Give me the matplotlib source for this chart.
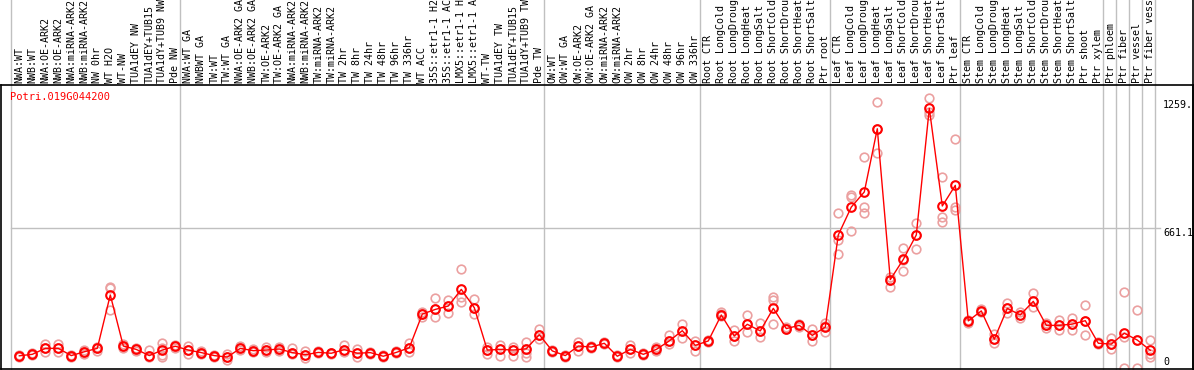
import matplotlib
matplotlib.use('Agg')
import matplotlib.pyplot as plt
from matplotlib.lines import Line2D

gene = "Potri.019G044200"

samples = [
    "NWA:WT", "NWB:WT", "NWA:OE-ARK2", "NWB:OE-ARK2", "NWA:miRNA-ARK2", "NWB:miRNA-ARK2",
    "NW 0hr", "WT H2O", "WT-NW", "TUA1dEY NW", "TUA1dEY+TUB15", "TUA1dY+TUB9 NW", "Pde NW",
    "NWA:WT GA", "NWBWT GA", "TW:WT", "TW:WT GA", "NWA:OE-ARK2 GA", "NWB:OE-ARK2 GA",
    "TW:OE-ARK2", "TW:OE-ARK2 GA", "NWA:miRNA-ARK2", "NWB:miRNA-ARK2", "TW:miRNA-ARK2",
    "TW:miRNA-ARK2", "TW 2hr", "TW 8hr", "TW 24hr", "TW 48hr", "TW 96hr", "TW 336hr",
    "WT ACC", "35S::etr1-1 H2", "35S::etr1-1 AC", "LMX5::etr1-1 H", "LMX5::etr1-1 A",
    "WT-TW", "TUA1dEY TW", "TUA1dEY+TUB15", "TUA1dY+TUB9 TW", "Pde TW",
    "OW:WT", "OW:WT GA", "OW:OE-ARK2", "OW:OE-ARK2 GA", "OW:miRNA-ARK2", "OW:miRNA-ARK2",
    "OW 2hr", "OW 8hr", "OW 24hr", "OW 48hr", "OW 96hr", "OW 336hr",
    "Root CTR", "Root LongCold", "Root LongDroug", "Root LongHeat", "Root LongSalt",
    "Root ShortCold", "Root ShortDrou", "Root ShortHeat", "Root ShortSalt", "Ptr root",
    "Leaf CTR", "Leaf LongCold", "Leaf LongDroug", "Leaf LongHeat", "Leaf LongSalt",
    "Leaf ShortCold", "Leaf ShortDrou", "Leaf ShortHeat", "Leaf ShortSalt", "Ptr leaf",
    "Stem CTR", "Stem LongCold", "Stem LongDroug", "Stem LongHeat", "Stem LongSalt",
    "Stem ShortCold", "Stem ShortDrou", "Stem ShortHeat", "Stem ShortSalt", "Ptr shoot",
    "Ptr xylem", "Ptr phloem", "Ptr fiber", "Ptr vessel", "Ptr fiber vess",
]

means = [
    62, 69, 97, 97, 63, 81, 97, 348, 108, 92, 63, 89, 107,
    89, 77, 63, 56, 97, 86, 89, 94, 77, 67, 78, 74, 91, 74, 77, 60, 78, 100,
    258, 280, 296, 374, 288, 89, 92, 89, 95, 161,
    85, 63, 108, 103, 121, 60, 92, 69, 92, 132, 180, 111,
    132, 254, 155, 210, 179, 285, 190, 205, 158, 197,
    630, 761, 832, 1129, 420, 515, 630, 1225, 766, 863,
    226, 273, 140, 285, 254, 318, 205, 205, 211, 227,
    121, 117, 168, 136, 88,
]

replicates = [
    [66, 63, 58], [74, 69, 64], [117, 97, 81], [116, 97, 81], [66, 63, 56],
    [89, 80, 70], [102, 97, 86], [387, 379, 277], [117, 108, 97], [97, 92, 86],
    [89, 63, 55], [121, 97, 66, 55], [113, 107, 97],
    [108, 89, 69], [86, 77, 71], [67, 63, 58], [72, 56, 42], [108, 97, 89],
    [96, 86, 80], [102, 89, 81], [105, 94, 86], [97, 77, 71], [86, 67, 50],
    [83, 78, 74], [77, 74, 69], [111, 91, 81], [92, 74, 58], [82, 77, 72],
    [64, 60, 55], [83, 78, 74], [124, 100, 81], [269, 258, 243], [332, 280, 243],
    [324, 296, 265], [468, 340, 316], [330, 288, 257], [105, 89, 71], [113, 92, 61],
    [102, 89, 61], [128, 96, 74, 55], [188, 161, 139],
    [89, 85, 80], [67, 63, 58], [128, 108, 86], [108, 103, 99], [125, 121, 116],
    [64, 60, 55], [113, 92, 74], [74, 69, 64], [102, 92, 83], [160, 132, 117],
    [211, 180, 147], [133, 111, 86],
    [136, 132, 127], [269, 258, 249], [183, 155, 132], [254, 210, 175], [215, 179, 149],
    [337, 324, 210], [196, 191, 186], [211, 205, 199], [186, 158, 133], [218, 202, 175],
    [732, 606, 540], [818, 810, 648], [995, 760, 735], [1256, 1129, 1014], [434, 418, 387],
    [567, 512, 460], [688, 630, 562], [1272, 1209, 1194], [904, 716, 692], [1079, 763, 747],
    [230, 226, 215], [280, 273, 268], [164, 139, 121], [312, 285, 265], [269, 254, 238],
    [359, 318, 290], [215, 205, 194], [230, 205, 183], [238, 211, 183], [301, 227, 160],
    [125, 121, 116], [144, 117, 92], [360, 152, 3], [277, 136, 3], [136, 70, 55],
]

group_starts = [0, 13, 41, 53, 63, 73, 84, 85, 86, 87, 88]
grid_value = 661.1
ytick_values = [1259, 661.1, 0]
ytick_labels = ["1259.", "661.1", "0"]

W, H = 1194, 370
fig = plt.figure(figsize=(W / 100, H / 100), dpi=100)
ax_left_px, ax_right_px, ax_top_px, ax_bot_px = 1, 1193, 85, 369
ax = fig.add_axes([ax_left_px / W, 1 - ax_bot_px / H,
                   (ax_right_px - ax_left_px) / W, (ax_bot_px - ax_top_px) / H])

x0_px, dx_px = 19.3, 13.0
ax.set_xlim((ax_left_px - x0_px) / dx_px, (ax_right_px - x0_px) / dx_px)
ax.set_ylim(0, (ax_bot_px - ax_top_px) / 0.2128)
ax.set_xticks([])
ax.set_yticks([])
for s in ax.spines.values():
    s.set_color('black')
    s.set_linewidth(1.2)

mono = 'DejaVu Sans Mono'
top_frac = ax_bot_px / (ax_bot_px - ax_top_px)  # axes fraction reaching figure top

# group separators (extend through label area)
for b in group_starts:
    ax.axvline(b - 0.65, ymin=0, ymax=top_frac + 0.01, color='#c0c0c0', lw=1.0,
               clip_on=False, zorder=1)

# horizontal grid line
x_end = (1160 - x0_px) / dx_px
ax.plot([group_starts[0] - 0.65, x_end], [grid_value, grid_value], color='#c0c0c0',
        lw=1.0, zorder=1, clip_on=False)

# replicates
for i, reps in enumerate(replicates):
    ax.plot([i] * len(reps), reps, linestyle='none', marker='o', ms=6.2,
            mfc='none', mec='#eba0a0', mew=1.2, zorder=2)

# means
xs = list(range(len(means)))
ax.plot(xs, means, color='red', lw=1.0, zorder=3)
ax.plot(xs, means, linestyle='none', marker='o', ms=6.2, mfc='none', mec='red',
        mew=1.5, zorder=4)

# sample labels
for i, lab in enumerate(samples):
    ax.text(i, 1 + 2 / (ax_bot_px - ax_top_px), lab, transform=ax.get_xaxis_transform(),
            rotation=90, ha='center', va='bottom', fontsize=7.2, family=mono,
            color='black', clip_on=False)

# gene name
fig.text(10 / W, 1 - 97 / H, gene, color='red', fontsize=7.5, family=mono,
         ha='left', va='center')

# value labels on the right
for v, t in zip(ytick_values, ytick_labels):
    ypx = ax_bot_px - v * 0.2128 + 4.4
    if v == 0:
        ypx = 362
    fig.text(1163 / W, 1 - ypx / H, t, color='black', fontsize=7.2, family=mono,
             ha='left', va='center')

# right border extends to the top
fig.add_artist(Line2D([ax_right_px / W, ax_right_px / W], [0, 1], color='black', lw=1.2))

fig.savefig('out.png', dpi=100)
